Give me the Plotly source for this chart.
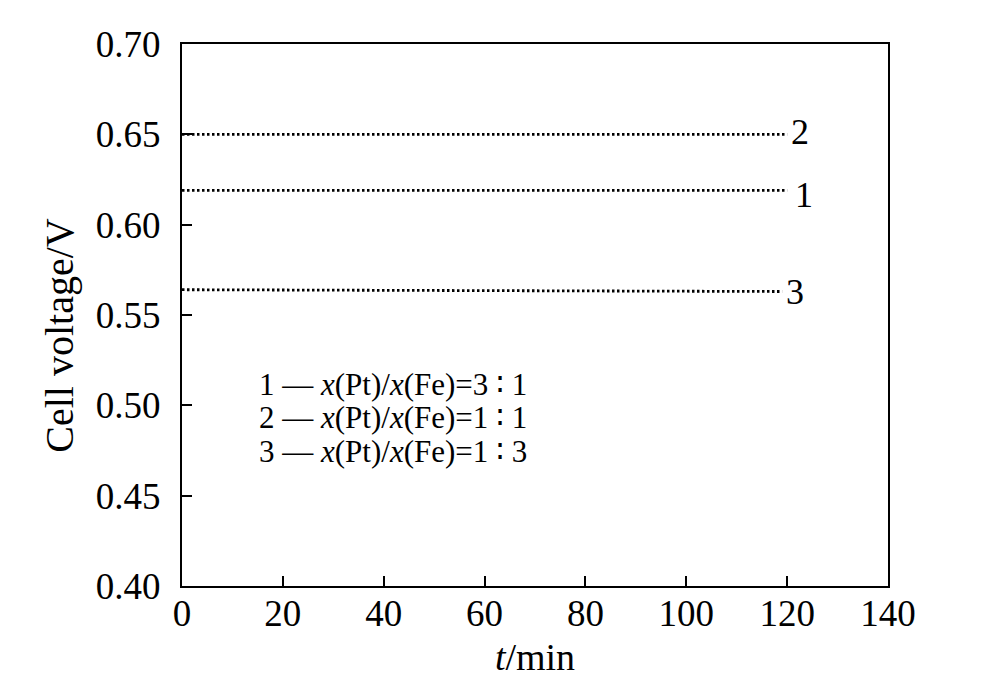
import plotly.graph_objects as go

# Data
t_1 = [0, 120]
v_1 = [0.619, 0.619]
t_2 = [0, 120]
v_2 = [0.650, 0.650]
t_3 = [0, 119]
v_3 = [0.564, 0.563]

curve_labels = ["1", "2", "3"]
legend_lines = [
    "1 — <i>x</i>(Pt)/<i>x</i>(Fe)=3 ∶ 1",
    "2 — <i>x</i>(Pt)/<i>x</i>(Fe)=1 ∶ 1",
    "3 — <i>x</i>(Pt)/<i>x</i>(Fe)=1 ∶ 3",
]
x_ticks = [0, 20, 40, 60, 80, 100, 120, 140]
y_ticks = [0.40, 0.45, 0.50, 0.55, 0.60, 0.65, 0.70]

FONT = "Liberation Serif"

fig = go.Figure()
for tx, vy in [(t_1, v_1), (t_2, v_2), (t_3, v_3)]:
    fig.add_trace(go.Scatter(
        x=tx, y=vy, mode="lines",
        line=dict(color="black", width=2.8, dash="2.5px,2.5px"),
        showlegend=False, hoverinfo="skip",
    ))

# end-of-curve labels
for lab, tx, vy, dy, xs in [(curve_labels[0], t_1, v_1, -0.0025, 6),
                            (curve_labels[1], t_2, v_2, 0.0015, 2),
                            (curve_labels[2], t_3, v_3, -0.0005, 2)]:
    fig.add_annotation(x=tx[-1], y=vy[-1] + dy, text=lab, showarrow=False,
                       xanchor="left", yanchor="middle", xshift=xs,
                       font=dict(family=FONT, size=36, color="black"))

# legend text block
for i, txt in enumerate(legend_lines):
    fig.add_annotation(x=14.8, y=0.5115 - i * 0.0185, text=txt, showarrow=False,
                       xanchor="left", yanchor="middle",
                       font=dict(family=FONT, size=31, color="black"))

# y-axis title placed like in the reference (slightly below the axis centre)
fig.add_annotation(xref="paper", yref="paper", x=-0.174, y=0.462,
                   text="Cell voltage/V", textangle=-90, showarrow=False,
                   xanchor="center", yanchor="middle",
                   font=dict(family=FONT, size=40, color="black"))

fig.update_layout(
    width=985, height=683,
    margin=dict(l=174, r=105, t=36, b=105),
    paper_bgcolor="white", plot_bgcolor="white",
    font=dict(family=FONT, size=37, color="black"),
)
fig.update_xaxes(
    range=[0, 140], tickvals=x_ticks, ticktext=[str(v) for v in x_ticks],
    ticks="inside", ticklen=10, tickwidth=1.5, tickcolor="black",
    showline=True, linecolor="black", linewidth=2, mirror=True,
    showgrid=False, zeroline=False, ticklabelstandoff=-6,
    title=dict(text="<i>t</i>/min", font=dict(family=FONT, size=38), standoff=10),
)
fig.update_yaxes(
    range=[0.40, 0.70], tickvals=y_ticks, ticktext=[f"{v:.2f}" for v in y_ticks],
    ticks="inside", ticklen=10, tickwidth=1.5, tickcolor="black",
    showline=True, linecolor="black", linewidth=2, mirror=True,
    showgrid=False, zeroline=False, ticklabelstandoff=12,
)

fig.write_html("out.html")
